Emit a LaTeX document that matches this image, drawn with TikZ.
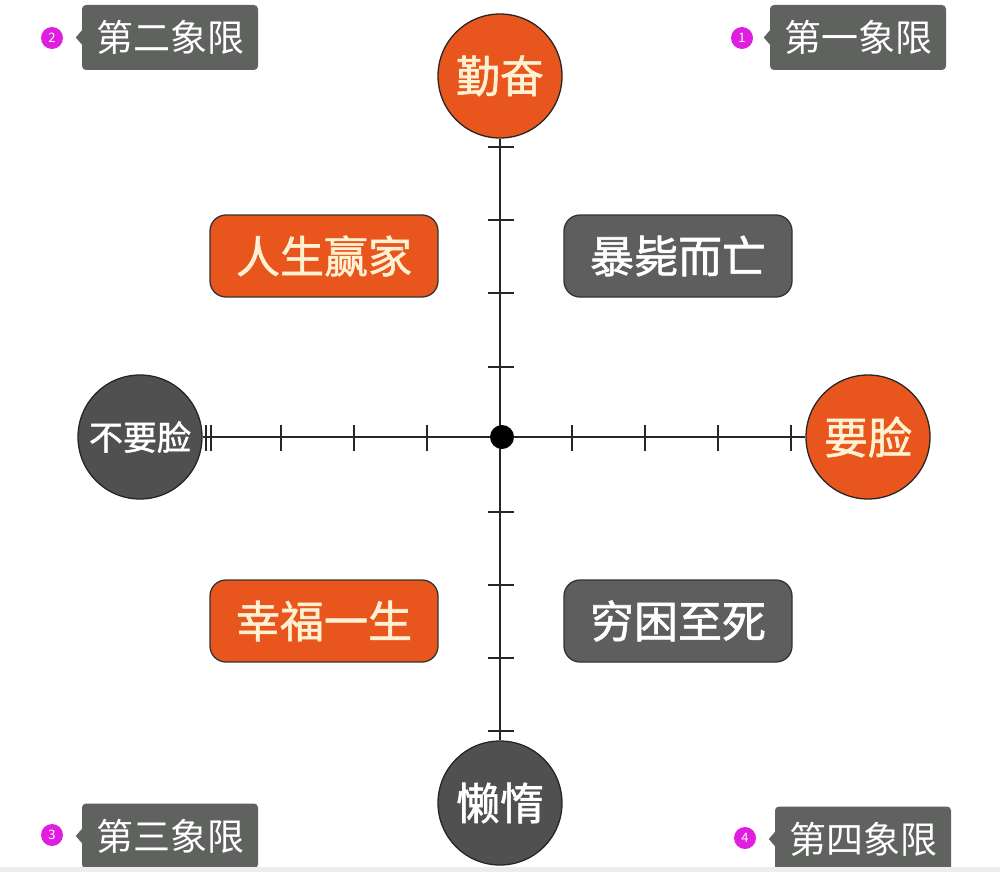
\documentclass[tikz,border=0pt]{standalone}
\usepackage{fontspec}
\newfontfamily\cjk{Noto Sans CJK SC}
\newfontfamily\cjkm[FakeBold=1.3]{Noto Sans CJK SC}
\definecolor{ored}{HTML}{E8561E}
\definecolor{dgray}{HTML}{505050}
\definecolor{bgray}{HTML}{5E5E5E}
\definecolor{qgray}{HTML}{5F625F}
\definecolor{cream}{HTML}{FFF1D2}
\definecolor{pink}{HTML}{E01EE0}
\tikzset{
  circ/.style={circle, draw=black!85, line width=1.3pt, minimum size=124pt, inner sep=0pt},
  ocirc/.style={circ, fill=ored, text=cream, font=\cjkm\fontsize{44}{44}\selectfont},
  gcirc/.style={circ, fill=dgray, text=white},
  pill/.style={rounded corners=16pt, draw=black!80, line width=1.3pt, minimum width=228pt, minimum height=82pt, inner sep=0pt, font=\cjkm\fontsize{44}{44}\selectfont},
  opill/.style={pill, fill=ored, text=cream},
  gpill/.style={pill, fill=bgray, text=white},
  qlab/.style={fill=qgray, rounded corners=4pt, minimum width=176pt, minimum height=65pt, inner sep=0pt, text=white, font=\cjk\fontsize{37}{37}\selectfont},
  qnum/.style={circle, fill=pink, minimum size=22pt, inner sep=0pt, text=white, font=\cjk\fontsize{13}{13}\selectfont},
  axis/.style={line width=1.8pt, draw=black!85},
  tick/.style={line width=1.8pt, draw=black!85}
}
\begin{document}
\begin{tikzpicture}[x=1pt, y=-1pt]
\useasboundingbox (0,0) rectangle (1000,872);
\fill[white] (0,0) rectangle (1000,872);

% axis end circles
\node[ocirc] (qf) at (500,76) {勤奋};
\node[gcirc, font=\cjkm\fontsize{34}{34}\selectfont] (bl) at (140,437) {不要脸};
\node[ocirc] (yl) at (868,437) {要脸};
\node[gcirc, font=\cjkm\fontsize{44}{44}\selectfont] (ld) at (500,803) {懒惰};

% axes
\coordinate (o) at (502,437);
\draw[axis] (qf) -- (ld);
\draw[axis] (bl) -- (yl);

% ticks on horizontal axis
\foreach \x in {206,211,281,354,427,572,645,718,791}
  \draw[tick] (\x,425) -- (\x,451);
% ticks on vertical axis
\foreach \y in {147,220,293,367,512,585,658,731}
  \draw[tick] (488,\y) -- (514,\y);

\node[circle, fill=black, minimum size=24pt, inner sep=0pt] (c) at (o) {};

% quadrant boxes
\node[opill] (q2b) at (324,256) {人生赢家};
\node[gpill] (q1b) at (678,256) {暴毙而亡};
\node[opill] (q3b) at (324,621) {幸福一生};
\node[gpill] (q4b) at (678,621) {穷困至死};

% quadrant labels
\node[qlab] (l2) at (170,37.5) {第二象限};
\node[qlab] (l1) at (858,37.5) {第一象限};
\node[qlab] (l3) at (170,836) {第三象限};
\node[qlab] (l4) at (863,839) {第四象限};
\foreach \l in {l1,l2,l3,l4}
  \fill[qgray] ([yshift=-7pt]\l.west) -- ([xshift=-6pt]\l.west) -- ([yshift=7pt]\l.west) -- cycle;

\node[qnum] (n2) at (52,38) {2};
\node[qnum] (n1) at (742,38) {1};
\node[qnum] (n3) at (52,835) {3};
\node[qnum] (n4) at (745,838) {4};

% bottom band
\fill[black!7] (0,867) rectangle (1000,872);
\end{tikzpicture}
\end{document}
